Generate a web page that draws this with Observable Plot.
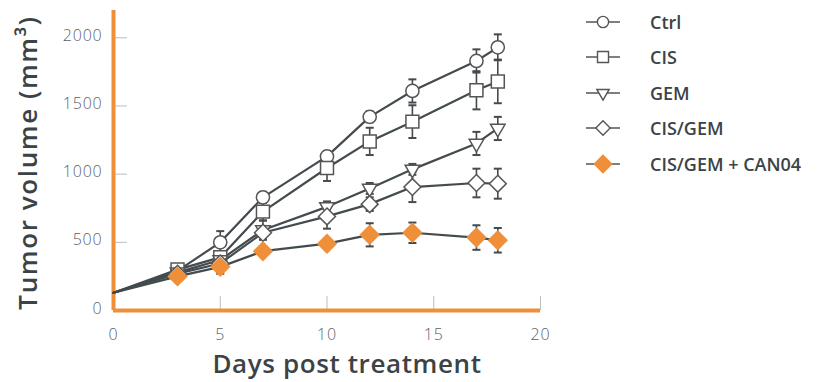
<!DOCTYPE html>
<html><head><meta charset="utf-8">
<script src="https://cdn.jsdelivr.net/npm/d3@7"></script>
<script src="https://cdn.jsdelivr.net/npm/@observablehq/plot@0.6"></script>
<style>
body{margin:0;background:#fff;}
#wrap{position:relative;width:820px;height:382px;font-family:"Open Sans",sans-serif;}
#legend{position:absolute;left:0;top:0;}
.row{position:absolute;left:584px;height:24px;display:flex;align-items:center;white-space:nowrap;}
.row span{font-size:18px;font-weight:600;color:#3b4346;}
</style></head><body>
<div id="wrap"><div id="chart"></div><div id="legend"></div></div>
<script>
// ---- data ----
const days = [0, 3, 5, 7, 10, 12, 14, 17, 18];
const seriesNames = ["Ctrl", "CIS", "GEM", "CIS/GEM", "CIS/GEM + CAN04"];
const ctrlMean  = [130, 290, 500, 830, 1130, 1420, 1610, 1830, 1930];
const ctrlErr   = [0, 20, 82, 40, 40, 40, 85, 85, 95];
const cisMean   = [130, 300, 390, 725, 1045, 1240, 1385, 1615, 1680];
const cisErr    = [0, 20, 40, 65, 95, 100, 120, 140, 160];
const gemMean   = [130, 280, 370, 590, 760, 895, 1035, 1225, 1335];
const gemErr    = [0, 20, 40, 70, 40, 40, 40, 85, 85];
const cgMean    = [130, 270, 345, 570, 690, 780, 905, 935, 930];
const cgErr     = [0, 20, 30, 50, 90, 50, 110, 105, 110];
const canMean   = [130, 250, 320, 435, 490, 555, 570, 535, 515];
const canErr    = [0, 20, 50, 30, 30, 85, 75, 90, 90];
const xTicks = [0, 5, 10, 15, 20];
const yTicks = [0, 500, 1000, 1500, 2000];
const xTitle = "Days post treatment";
const yTitle = "Tumor volume (mm³)";

// ---- styles ----
const orange = "#ef8f3a";
const dark = "#434b4e";
const markerStyle = {
  "Ctrl": {symbol: "circle", r: 6.6, fill: "#fff", rotate: 0},
  "CIS": {symbol: "square", r: 7.3, fill: "#fff", rotate: 0},
  "GEM": {symbol: "triangle", r: 5.4, fill: "#fff", rotate: 180},
  "CIS/GEM": {symbol: "diamond2", r: 7.6, fill: "#fff", rotate: 0},
  "CIS/GEM + CAN04": {symbol: "diamond2", r: 9.2, fill: orange, rotate: 0}
};

const means = [ctrlMean, cisMean, gemMean, cgMean, canMean];
const errs = [ctrlErr, cisErr, gemErr, cgErr, canErr];
const rows = [];
seriesNames.forEach((s, i) => days.forEach((d, j) => rows.push({series: s, day: d, mean: means[i][j], err: errs[i][j]})));
const pts = rows.filter(d => d.day > 0);

const capSymbol = {draw(ctx, size) { const w = Math.sqrt(size / Math.PI); ctx.moveTo(-w, 0); ctx.lineTo(w, 0); }};

const plot = Plot.plot({
  width: 820, height: 382,
  marginLeft: 113, marginRight: 280, marginTop: 10, marginBottom: 72,
  x: {domain: [0, 20]},
  y: {domain: [0, 2200]},
  style: {fontFamily: "Open Sans, sans-serif", background: "#fff", overflow: "visible"},
  marks: [
    Plot.axisY(yTicks, {tickSize: 14, dx: 14, stroke: "#bdbdbd", text: null, label: null}),
    Plot.axisX(xTicks, {tickSize: 14, dy: -14, stroke: "#bdbdbd", text: null, label: null}),
    Plot.axisY(yTicks, {tickSize: 0, tickPadding: 11, tickFormat: d => String(d), fontSize: 16, fontWeight: 300, fill: "#5f5f5f", label: null, dy: -2}),
    Plot.axisX(xTicks, {tickSize: 0, tickPadding: 18, tickFormat: d => String(d), fontSize: 16, fontWeight: 300, fill: "#5f5f5f", label: null}),
    Plot.ruleX([0], {stroke: orange, strokeWidth: 4}),
    Plot.ruleY([0], {stroke: orange, strokeWidth: 4}),
    Plot.line(rows, {x: "day", y: "mean", z: "series", stroke: dark, strokeWidth: 2.2}),
    Plot.ruleX(pts, {x: "day", y1: d => d.mean - d.err, y2: d => d.mean + d.err, stroke: dark, strokeWidth: 1.6}),
    Plot.dot(pts, {x: "day", y: d => d.mean + d.err, symbol: capSymbol, r: 4, stroke: dark, strokeWidth: 2}),
    Plot.dot(pts, {x: "day", y: d => d.mean - d.err, symbol: capSymbol, r: 4, stroke: dark, strokeWidth: 2}),
    ...seriesNames.map(s => Plot.dot(pts.filter(d => d.series === s), {
      x: "day", y: "mean", symbol: markerStyle[s].symbol, r: markerStyle[s].r,
      fill: markerStyle[s].fill, rotate: markerStyle[s].rotate,
      stroke: s === "CIS/GEM + CAN04" ? "none" : "#555", strokeWidth: 1.5
    })),
    Plot.text([xTitle], {frameAnchor: "bottom", textAnchor: "middle", lineAnchor: "middle", dx: 20, dy: 54, fontSize: 26, fontWeight: 600, fill: "#3b4346"}),
    Plot.text([yTitle], {frameAnchor: "left", textAnchor: "middle", lineAnchor: "middle", rotate: -90, dx: -85, dy: 2, fontSize: 26, fontWeight: 600, fill: "#3b4346"})
  ]
});
d3.select(plot).selectAll("text").filter(function() { return this.textContent === xTitle; }).style("letter-spacing", "0.6px");
d3.select(plot).selectAll("text").filter(function() { return this.textContent === yTitle; }).style("letter-spacing", "1.6px");
d3.select(plot).selectAll("text").filter(function() { return /^\d+$/.test(this.textContent); }).style("letter-spacing", "0.8px");
document.getElementById("chart").appendChild(plot);

// ---- legend ----
const legend = document.getElementById("legend");
const rowCenters = [21.5, 57, 92.5, 128, 163.5];
seriesNames.forEach((s, i) => {
  const st = markerStyle[s];
  const row = document.createElement("div");
  row.className = "row";
  row.style.top = (rowCenters[i] - 12) + "px";
  const sym = {circle: d3.symbolCircle, square: d3.symbolSquare, triangle: d3.symbolTriangle, diamond2: d3.symbolDiamond2}[st.symbol];
  const filled = s === "CIS/GEM + CAN04";
  const size = Math.PI * Math.pow(st.r * (filled ? 0.95 : 0.85), 2);
  const path = d3.symbol(sym, size)();
  row.innerHTML = `<svg width="36" height="24" style="position:absolute;left:0;top:0"><line x1="2" x2="36" y1="12" y2="12" stroke="#555" stroke-width="1.5"/><path d="${path}" transform="translate(19,12) rotate(${st.rotate})" fill="${st.fill}" stroke="${filled ? 'none' : '#555'}" stroke-width="1.4"/></svg><span style="margin-left:66px">${s}</span>`;
  legend.appendChild(row);
});
</script>
</body></html>
